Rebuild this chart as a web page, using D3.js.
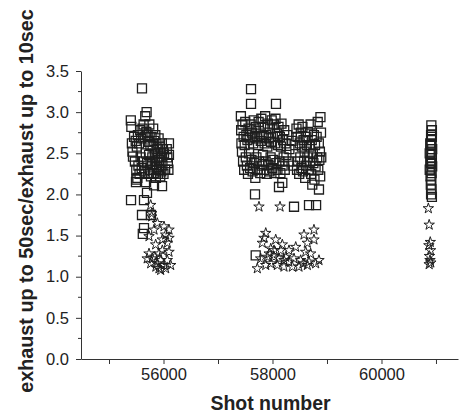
<!DOCTYPE html>
<html>
<head>
<meta charset="utf-8">
<script src="https://cdn.jsdelivr.net/npm/d3@7"></script>
<style>
  body { margin: 0; background: #fff; }
  svg { display: block; font-family: "Liberation Sans", Arial, sans-serif; }
</style>
</head>
<body>
<svg id="chart" width="459" height="415"></svg>
<script>
// ratio values per shot
const squares = [
  // first campaign
  [55400,2.90],[55410,2.82],[55420,2.62],[55430,2.52],[55440,2.46],
  [55460,2.70],[55475,2.40],[55490,2.65],[55500,2.30],[55510,2.58],[55520,2.20],[55530,2.72],[55540,2.35],
  [55550,2.62],[55560,2.25],[55570,2.78],[55580,2.45],[55590,2.68],[55600,2.32],[55605,3.29],[55615,2.80],
  [55625,2.40],[55635,2.85],[55645,2.28],[55655,2.70],[55665,2.95],[55675,2.50],[55685,2.76],[55690,3.00],
  [55700,2.38],[55710,2.72],[55720,2.25],[55730,2.64],[55740,2.85],[55750,2.30],[55760,2.60],[55770,2.22],
  [55780,2.70],[55790,2.35],[55800,2.58],[55810,2.80],[55820,2.26],[55830,2.65],[55840,2.40],[55850,2.72],
  [55860,2.20],[55870,2.62],[55880,2.33],[55890,2.55],[55900,2.25],[55910,2.68],[55920,2.30],[55930,2.58],
  [55940,2.22],[55950,2.50],[55960,2.28],[55970,2.62],[55980,2.35],[55990,2.55],[56000,2.25],[56010,2.50],
  [56030,2.30],[56060,2.55],[56070,2.45],[56080,2.38],[56090,2.30],[56100,2.62],[56100,2.48],
  [55735,2.48],[55795,2.45],[55855,2.50],[55915,2.42],[55975,2.46],[55765,2.40],[55885,2.44],[55945,2.38],
  [55495,2.15],[55500,2.18],[55680,2.15],[55826,2.11],[55973,2.10],[55697,2.02],[55404,1.93],[55642,1.93],
  [55605,1.75],[55770,1.75],[55642,1.59],[55620,1.52],
  // second campaign
  [57420,2.95],[57425,2.78],[57430,2.62],[57440,2.52],[57450,2.85],[57460,2.40],[57470,2.70],[57480,2.30],
  [57490,2.60],[57500,2.88],[57510,2.45],[57520,2.72],[57530,2.35],[57540,2.66],[57550,2.25],[57560,2.80],
  [57570,2.50],[57580,2.68],[57590,2.32],[57600,2.85],[57606,3.28],[57606,3.10],[57615,2.42],[57625,2.75],
  [57635,2.28],[57645,2.62],[57655,2.90],[57665,2.38],[57675,2.70],[57679,2.00],[57685,2.20],[57695,2.82],
  [57705,2.45],[57715,2.68],[57725,2.30],[57735,2.60],[57745,2.88],[57755,2.40],[57765,2.74],[57775,2.26],
  [57785,2.65],[57795,2.92],[57805,2.35],[57815,2.70],[57825,2.48],[57835,2.82],[57845,2.30],[57855,2.62],
  [57865,2.95],[57875,2.40],[57885,2.72],[57895,2.25],[57905,2.58],[57915,2.86],[57925,2.36],[57935,2.68],
  [57945,2.28],[57955,2.80],[57965,2.45],[57975,2.64],[57985,2.90],[57995,2.32],[58005,2.70],[58015,2.42],
  [58025,2.85],[58035,2.26],[58045,2.62],[58055,2.92],[58064,3.10],[58070,2.38],[58080,2.74],[58090,2.30],
  [58100,2.60],[58110,2.82],[58119,2.09],[58125,2.40],[58135,2.70],[58145,2.26],[58155,2.58],[58165,2.86],
  [58180,2.14],[58185,2.35],[58195,2.66],[58205,2.45],[58215,2.78],[58225,2.30],[58240,2.62],[58255,2.48],
  [58270,2.72],[58290,2.40],[58310,2.55],[58350,2.65],[58380,2.35],[58395,1.85],[58420,2.60],[58440,2.80],
  [58450,2.30],[58460,2.70],[58470,2.40],[58480,2.85],[58490,2.25],[58500,2.62],[58510,2.45],[58520,2.75],
  [58530,2.32],[58540,2.58],[58550,2.82],[58560,2.28],[58570,2.66],[58580,2.40],[58590,2.52],[58600,2.20],
  [58610,2.70],[58620,2.35],[58630,2.60],[58640,2.45],[58650,2.76],[58660,2.30],[58670,1.87],[58680,2.58],
  [58690,2.40],[58700,2.85],[58710,2.25],[58720,2.66],[58730,2.12],[58740,2.50],[58750,2.38],[58760,2.72],
  [58770,2.18],[58780,2.60],[58790,2.34],[58800,1.87],[58810,2.70],[58820,2.45],[58830,2.88],[58840,2.30],
  [58850,2.62],[58853,2.06],[58860,2.42],[58870,2.52],[58875,2.22],[58880,2.94],[58890,2.75],[58895,2.45],
  [57692,1.26],
  // third campaign
  [60915,2.84],[60925,2.78],[60910,2.72],[60920,2.66],[60905,2.60],[60930,2.55],[60900,2.52],[60915,2.48],
  [60925,2.44],[60895,2.40],[60910,2.38],[60930,2.34],[60900,2.30],[60920,2.26],[60900,2.22],[60915,2.18],
  [60905,2.12],[60920,2.06],[60910,2.00],[60925,1.97],[60885,2.50],[60885,2.30],[60895,2.62],[60925,2.70]
];

const stars = [
  // first campaign
  [55765,1.87],[55783,1.77],[55783,1.73],[55887,1.65],[56009,1.61],[56101,1.57],[55826,1.57],[56040,1.51],
  [55734,1.49],[56101,1.47],[55978,1.45],[55856,1.39],[56070,1.41],[55978,1.32],[55734,1.28],[55917,1.28],
  [56101,1.30],[55795,1.22],[55948,1.20],[56070,1.20],[55765,1.16],[55887,1.16],[56009,1.14],[56132,1.14],
  [55917,1.10],[56040,1.10],[55948,1.08],[55840,1.24],[55700,1.22],[55860,1.12],
  // second campaign
  [57752,1.85],[58138,1.85],
  [57876,1.53],[57844,1.47],[57813,1.41],[58059,1.45],[58180,1.39],[57968,1.34],[58150,1.32],[58303,1.32],
  [58426,1.36],[58578,1.51],[58761,1.57],[58761,1.45],[58639,1.41],[58609,1.30],[58700,1.28],[58853,1.20],
  [57783,1.22],[57905,1.24],[58028,1.24],[58119,1.22],[58242,1.24],[58395,1.22],[58517,1.20],[58670,1.18],
  [58792,1.16],[57968,1.16],[58089,1.14],[58211,1.12],[58364,1.12],[58486,1.12],[58639,1.14],[57721,1.10],
  [57876,1.14],[58211,1.20],[58028,1.32],[57940,1.28],[58300,1.18],[58560,1.16],
  // third campaign
  [60860,1.83],[60875,1.63],[60895,1.42],[60870,1.38],[60900,1.32],[60880,1.25],[60890,1.20],[60905,1.17],[60875,1.15]
];

const xMajorTicks = [56000, 58000, 60000];
const xAllTicks = [55000, 56000, 57000, 58000, 59000, 60000, 61000];
const yMajorTicks = [0, 0.5, 1.0, 1.5, 2.0, 2.5, 3.0, 3.5];
const yMinorTicks = [0.25, 0.75, 1.25, 1.75, 2.25, 2.75, 3.25];

const margin = {left: 81, top: 71, right: 1, bottom: 56};
const svg = d3.select("#chart");
const width = +svg.attr("width");
const height = +svg.attr("height");

const x = d3.scaleLinear()
  .domain([54486, 61404])
  .range([margin.left, width - margin.right]);
const y = d3.scaleLinear()
  .domain([0, 3.5])
  .range([height - margin.bottom, margin.top]);

//Axes
const xAxis = svg.append("g")
  .attr("transform", `translate(0,${height - margin.bottom})`)
  .call(d3.axisBottom(x)
    .tickValues(xAllTicks)
    .tickSize(5)
    .tickSizeOuter(0)
    .tickPadding(4)
    .tickFormat(d => xMajorTicks.includes(d) ? d : ""));

const yAxis = svg.append("g")
  .attr("transform", `translate(${margin.left},0)`)
  .call(d3.axisLeft(y)
    .tickValues(yMajorTicks)
    .tickSize(5)
    .tickSizeOuter(0)
    .tickPadding(7)
    .tickFormat(d3.format(".1f")));

yAxis.selectAll(".minor")
  .data(yMinorTicks)
  .enter()
    .append("line")
    .classed("minor", true)
    .attr("x1", -3)
    .attr("x2", 0)
    .attr("y1", d => y(d))
    .attr("y2", d => y(d))
    .attr("stroke", "#333");

[xAxis, yAxis].forEach(g => {
  g.selectAll("path, line").attr("stroke", "#333");
  g.selectAll("text")
    .attr("fill", "#222")
    .style("font-size", "16.5px")
    .style("font-family", "'Liberation Sans', Arial, sans-serif");
});

//Titles
svg.append("text")
  .attr("x", (x(54486) + x(61404)) / 2 + 1)
  .attr("y", 410)
  .attr("text-anchor", "middle")
  .attr("fill", "#222")
  .style("font-size", "19.5px")
  .style("font-weight", "bold")
  .text("Shot number");

svg.append("text")
  .attr("transform", "translate(33,201) rotate(-90)")
  .attr("text-anchor", "middle")
  .attr("fill", "#222")
  .style("font-size", "19.8px")
  .style("font-weight", "bold")
  .text("exhaust up to 50sec/exhaust up to 10sec");

//Markers
const plot = svg.append("g");

plot.selectAll("path.sq")
  .data(squares)
  .enter()
    .append("path")
    .classed("sq", true)
    .attr("d", d3.symbol(d3.symbolSquare, 81))
    .attr("transform", d => `translate(${x(d[0])},${y(d[1])})`)
    .attr("fill", "none")
    .attr("stroke", "#1e1e1e")
    .attr("stroke-width", 1.3);

plot.selectAll("path.star")
  .data(stars)
  .enter()
    .append("path")
    .classed("star", true)
    .attr("d", d3.symbol(d3.symbolStar, 34))
    .attr("transform", d => `translate(${x(d[0])},${y(d[1])})`)
    .attr("fill", "none")
    .attr("stroke", "#1e1e1e")
    .attr("stroke-width", 1);
</script>
</body>
</html>
